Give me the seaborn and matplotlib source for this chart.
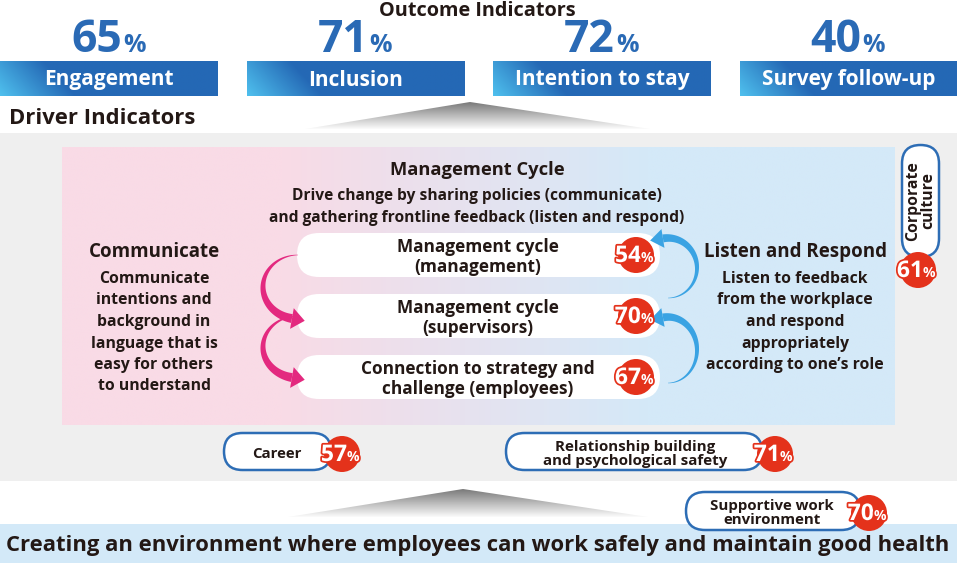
import numpy as np
import matplotlib.pyplot as plt
from matplotlib.patches import FancyBboxPatch, Polygon, Circle, Rectangle
import matplotlib.patheffects as pe
import seaborn as sns

# Outcome indicators (top row)
outcome_labels = ["Engagement", "Inclusion", "Intention to stay", "Survey follow-up"]
outcome_values = [65, 71, 72, 40]

# Management cycle boxes
cycle_labels = ["Management cycle\n(management)",
                "Management cycle\n(supervisors)",
                "Connection to strategy and\nchallenge (employees)"]
cycle_values = [54, 70, 67]

# Other driver indicators
driver_labels = ["Corporate\nculture", "Career",
                 "Relationship building\nand psychological safety",
                 "Supportive work\nenvironment"]
driver_values = [61, 57, 71, 70]

communicate_text = ["Communicate", "intentions and", "background in",
                    "language that is", "easy for others", "to understand"]
listen_text = ["Listen to feedback", "from the workplace", "and respond",
               "appropriately", "according to one\u2019s role"]

sns.set_theme(style="white")
plt.rcParams['font.family'] = ['Open Sans', 'DejaVu Sans']

W, H = 957, 563
fig = plt.figure(figsize=(W / 100, H / 100), dpi=100)
ax = fig.add_axes([0, 0, 1, 1])

INK = '#231815'
BLUE = '#2a6ab5'
RED = '#e4321b'
EDGE = '#2d6db5'
DY = 2  # matplotlib centres on the full text box, nudge down to match cap centres

bar_cmap = sns.blend_palette(['#4fc0ee', '#2468b5'], as_cmap=True)
panel_cmap = sns.blend_palette(['#f9dbe6', '#d4e9f8'], as_cmap=True)
shade_cmap = sns.blend_palette(['#7a7a7a', '#ffffff'], as_cmap=True)


def grad(x0, y0, x1, y1, arr, cmap, clip=None, z=1):
    im = ax.imshow(arr, cmap=cmap, vmin=0, vmax=1, extent=(x0, x1, y1, y0),
                   origin='upper', aspect='auto', interpolation='bilinear', zorder=z)
    if clip is not None:
        im.set_clip_path(clip)
    return im


def pill(x0, y0, x1, y1, fc='white', ec='none', lw=0, z=3):
    h = y1 - y0
    p = FancyBboxPatch((x0, y0), x1 - x0, h, boxstyle=f"round,pad=0,rounding_size={h / 2}",
                       fc=fc, ec=ec, lw=lw, zorder=z)
    ax.add_patch(p)


def badge(cx, cy, value, r=18):
    ax.add_patch(Circle((cx, cy), r, fc=RED, ec='none', zorder=6))
    stroke = [pe.withStroke(linewidth=2.5, foreground=RED)]
    ax.text(cx + 5, cy + 1, str(value), ha='right', va='center', color='white',
            fontsize=16.5, fontweight='bold', zorder=7, path_effects=stroke)
    ax.text(cx + 5, cy + 3, '%', ha='left', va='center', color='white',
            fontsize=10, fontweight='bold', zorder=7, path_effects=stroke)


def curved_arrow(cx, cy, rx, ry, t0, t1, color, w_max=9, head_w=21, head_len=13):
    t = np.radians(np.linspace(t0, t1, 80))
    px = cx + rx * np.cos(t)
    py = cy + ry * np.sin(t)
    dx, dy = np.gradient(px), np.gradient(py)
    n = np.hypot(dx, dy)
    nx, ny = -dy / n, dx / n
    w = np.linspace(0.4, w_max, len(t)) / 2
    body = np.vstack([np.column_stack([px + nx * w, py + ny * w]),
                      np.column_stack([px - nx * w, py - ny * w])[::-1]])
    ax.add_patch(Polygon(body, closed=True, fc=color, ec='none', zorder=4))
    ux, uy = dx[-1] / n[-1], dy[-1] / n[-1]
    ex, ey = px[-1], py[-1]
    head = [(ex + nx[-1] * head_w / 2, ey + ny[-1] * head_w / 2),
            (ex + ux * head_len, ey + uy * head_len),
            (ex - nx[-1] * head_w / 2, ey - ny[-1] * head_w / 2)]
    ax.add_patch(Polygon(head, closed=True, fc=color, ec='none', zorder=4))


# ---- Outcome indicators ----
ax.text(477, 9 + DY, "Outcome Indicators", ha='center', va='center', color=INK,
        fontsize=14.3, fontweight='bold')
bar_w, bar_h, step = 217.5, 35, 246.6
for i, (lab, val) in enumerate(zip(outcome_labels, outcome_values)):
    x0 = i * step
    xx, yy = np.meshgrid(np.linspace(0, bar_w, 200), np.linspace(0, bar_h, 40))
    f = np.clip((xx + 0.9 * (bar_h - yy)) / 75, 0, 1)
    grad(x0, 61, x0 + bar_w, 61 + bar_h, f, bar_cmap, z=2)
    ax.text(x0 + bar_w / 2, 85.5, lab, ha='center', va='baseline', color='white',
            fontsize=15, fontweight='bold', zorder=3)
    cx = x0 + bar_w / 2
    ax.text(cx + 13, 40, str(val), ha='right', va='center', color=BLUE,
            fontsize=32, fontweight='bold')
    ax.text(cx + 14, 45, '%', ha='left', va='center', color=BLUE,
            fontsize=18, fontweight='bold')

ax.text(9, 117 + DY, "Driver Indicators", ha='left', va='center', color=INK,
        fontsize=15.8, fontweight='bold')

# shading triangles
vg = np.linspace(0, 1, 50)[:, None] * np.ones((1, 10))
tri_top = Polygon([(305, 129), (470, 102), (650, 129)], closed=True, transform=ax.transData)
grad(300, 102, 655, 130, vg, shade_cmap, clip=tri_top, z=1)

# ---- Driver indicator area ----
ax.add_patch(Rectangle((0, 133), W, 481 - 133, fc='#efefef', ec='none', zorder=0))
xx = np.linspace(62, 895, 400)[None, :] * np.ones((10, 1))
grad(62, 147, 895, 425, np.clip((xx - 280) / 370, 0, 1), panel_cmap, z=1)

ax.text(477, 168 + DY, "Management Cycle", ha='center', va='center', color=INK,
        fontsize=13.2, fontweight='bold')
ax.text(477, 194 + DY, "Drive change by sharing policies (communicate)", ha='center',
        va='center', color=INK, fontsize=11.2, fontweight='bold')
ax.text(477, 216 + DY, "and gathering frontline feedback (listen and respond)", ha='center',
        va='center', color=INK, fontsize=11.2, fontweight='bold')

box_tops = [233, 294, 355]
for top, lab, val in zip(box_tops, cycle_labels, cycle_values):
    pill(297, top, 660, top + 44, z=3)
    ax.text(478, top + 22 + DY, lab, ha='center', va='center', color=INK, fontsize=12.4,
            fontweight='bold', linespacing=1.1, zorder=5)
    badge(636, top + 22, val)

# communicate arrows (pink) and listen arrows (blue)
curved_arrow(298, 287, 35, 32, 270, 100, '#e3297f')
curved_arrow(298, 347, 35, 31, 270, 100, '#e3297f')
curved_arrow(668, 268, 29, 30, 90, -100, '#3aa3e3', w_max=8, head_w=19, head_len=13)
curved_arrow(668, 350, 29, 33, 90, -100, '#3aa3e3', w_max=8, head_w=19, head_len=13)

ax.text(154, 250 + DY, "Communicate", ha='center', va='center', color=INK,
        fontsize=13.5, fontweight='bold')
for k, line in enumerate(communicate_text):
    ax.text(154, 277 + k * 21.5 + DY, line, ha='center', va='center', color=INK,
            fontsize=11.3, fontweight='bold')

ax.text(795, 250 + DY, "Listen and Respond", ha='center', va='center', color=INK,
        fontsize=13.5, fontweight='bold')
for k, line in enumerate(listen_text):
    ax.text(795, 277 + k * 21.5 + DY, line, ha='center', va='center', color=INK,
            fontsize=11.3, fontweight='bold')

# corporate culture (vertical pill)
ax.add_patch(FancyBboxPatch((902, 145), 37, 112, boxstyle="round,pad=0,rounding_size=18.5",
                            fc='white', ec=EDGE, lw=1.8, zorder=3))
ax.text(921, 201, driver_labels[0], ha='center', va='center', rotation=90,
        color=INK, fontsize=11.3, fontweight='bold', linespacing=0.9, zorder=5)
badge(918, 270, driver_values[0])

# career / relationship pills
pill(224, 433, 331, 470, ec=EDGE, lw=1.8)
ax.text(277, 452 + DY, driver_labels[1], ha='center', va='center', color=INK,
        fontsize=10.8, fontweight='bold', zorder=5)
badge(342, 454, driver_values[1])

pill(506, 433, 762, 470, ec=EDGE, lw=1.8)
ax.text(635, 452 + DY, driver_labels[2], ha='center', va='center', color=INK,
        fontsize=10.9, fontweight='bold', linespacing=0.95, zorder=5)
badge(775, 454, driver_values[2])

# ---- Bottom foundation ----
tri_bot = Polygon([(288, 517), (463, 489), (648, 517)], closed=True, transform=ax.transData)
grad(285, 489, 650, 518, vg, shade_cmap, clip=tri_bot, z=1)

ax.add_patch(Rectangle((0, 524), W, H - 524, fc='#d3e9f8', ec='none', zorder=1))
ax.text(478, 544 + DY, "Creating an environment where employees can work safely and maintain good health",
        ha='center', va='center', color=INK, fontsize=15.8, fontweight='bold', zorder=2)

pill(686, 492, 860, 530, ec=EDGE, lw=1.8)
ax.text(772, 511 + DY, driver_labels[3], ha='center', va='center', color=INK,
        fontsize=10.8, fontweight='bold', linespacing=0.95, zorder=5)
badge(869, 513, driver_values[3])

ax.set_xlim(0, W)
ax.set_ylim(H, 0)
ax.axis('off')
fig.savefig('out.png', dpi=100)
